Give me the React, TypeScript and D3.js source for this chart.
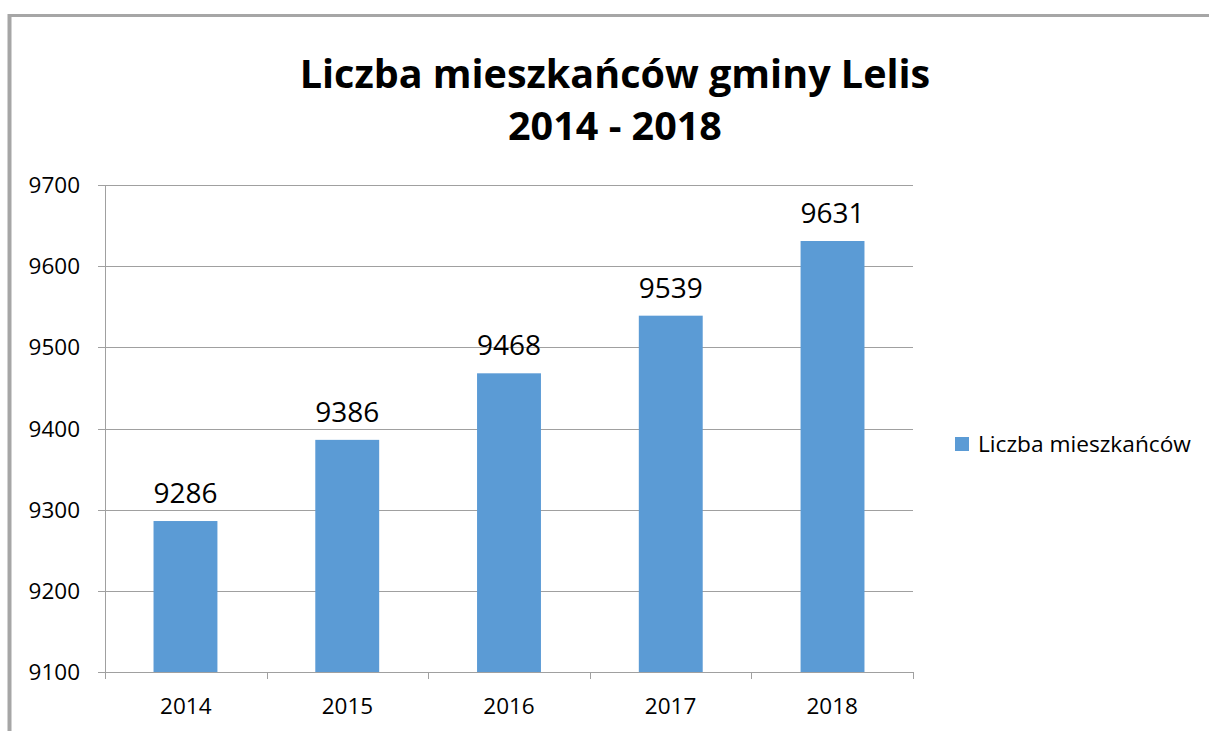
import React from "react";
import * as d3 from "d3";

const categories = ["2014", "2015", "2016", "2017", "2018"];
const values = [9286, 9386, 9468, 9539, 9631];
const yTicks = [9100, 9200, 9300, 9400, 9500, 9600, 9700];
const seriesName = "Liczba mieszkańców";
const titleLines = ["Liczba mieszkańców gminy Lelis", "2014 - 2018"];

export default function App() {
  const W = 1209, H = 731;
  const left = 105, right = 913, top = 185, bottom = 672;
  const x = d3.scaleBand().domain(categories).range([left, right]).paddingInner(0.605).paddingOuter(0.3);
  const xb = d3.scaleBand().domain(categories).range([left, right]);
  const y = d3.scaleLinear().domain([9100, 9700]).range([bottom, top]);
  const font = "'Open Sans', sans-serif";
  return (
    <svg width={W} height={H} style={{ position: "absolute", left: 0, top: 0 }} fontFamily={font}>
      <rect x={0} y={0} width={W} height={H} fill="#fff" />
      <line x1={9.5} y1={14} x2={9.5} y2={H} stroke="#a6a6a6" strokeWidth={4} />
      <line x1={8} y1={15.5} x2={W} y2={15.5} stroke="#a6a6a6" strokeWidth={3} />
      {titleLines.map((t, i) => (
        <text key={i} x={615} y={88 + i * 52} textAnchor="middle" fontSize={39.5} fontWeight="bold" fill="#000">{t}</text>
      ))}
      {yTicks.map((t) => (
        <g key={t}>
          <line x1={98} x2={right} y1={Math.round(y(t)) + 0.5} y2={Math.round(y(t)) + 0.5} stroke="#a0a0a0" strokeWidth={1} />
          <text x={80} y={y(t) + 8} textAnchor="end" fontSize={22.5} fill="#000">{t}</text>
        </g>
      ))}
      <line x1={left + 0.5} x2={left + 0.5} y1={top} y2={bottom + 7} stroke="#a0a0a0" />
      {categories.map((c) => (
        <line key={"tk" + c} x1={Math.round(xb(c)! + xb.bandwidth()) + 0.5} x2={Math.round(xb(c)! + xb.bandwidth()) + 0.5} y1={bottom} y2={bottom + 7} stroke="#a0a0a0" />
      ))}
      {categories.map((c, i) => (
        <g key={c}>
          <rect x={x(c)} y={y(values[i])} width={x.bandwidth()} height={bottom - y(values[i])} fill="#5b9bd5" />
          <text x={x(c)! + x.bandwidth() / 2} y={y(values[i]) - 18} textAnchor="middle" fontSize={28} fill="#000">{values[i]}</text>
          <text x={xb(c)! + xb.bandwidth() / 2} y={714} textAnchor="middle" fontSize={22.5} fill="#000">{c}</text>
        </g>
      ))}
      <rect x={955} y={437} width={14} height={14} fill="#5b9bd5" />
      <text x={978} y={452} fontSize={22.7} fill="#000">{seriesName}</text>
    </svg>
  );
}
